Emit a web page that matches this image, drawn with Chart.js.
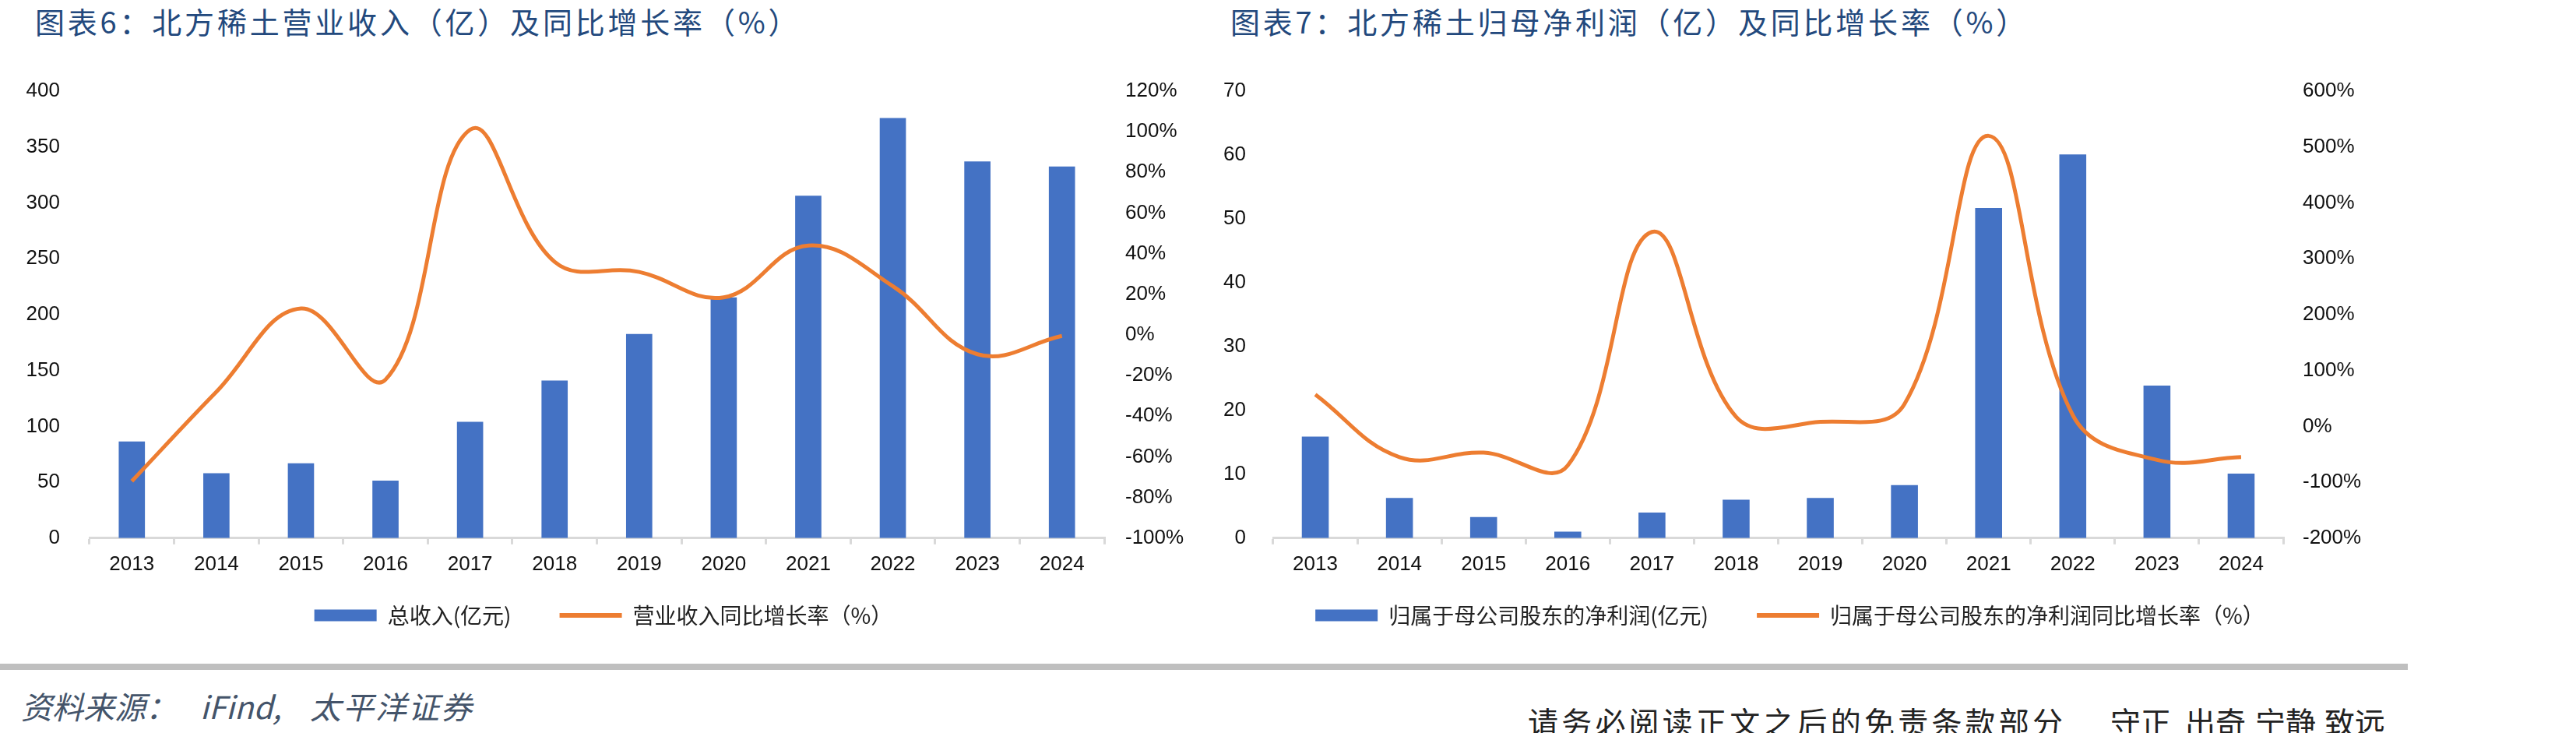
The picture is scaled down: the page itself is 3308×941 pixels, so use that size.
<!DOCTYPE html>
<html lang="zh-CN">
<head>
<meta charset="utf-8">
<title>北方稀土营业收入与归母净利润</title>
<script src="https://cdn.jsdelivr.net/npm/chart.js@4.4.1/dist/chart.umd.min.js"></script>
<style>
  html, body { margin: 0; padding: 0; background: #fff; }
  body { width: 3308px; height: 941px; position: relative; overflow: hidden; font-family: "Noto Sans CJK SC", sans-serif; }
  .title { position: absolute; top: 7px; font-size: 38px; line-height: 40px; color: #23497d; letter-spacing: 3.8px; white-space: nowrap; }
  canvas { position: absolute; top: 100px; }
  .rule { position: absolute; left: 0; top: 852px; width: 3092px; height: 8px; background: #bfbfbf; }
  .source { position: absolute; top: 885px; font-size: 40px; line-height: 42px; font-style: italic; color: #44546a; white-space: pre; }
  .motto { position: absolute; top: 904px; font-size: 39px; line-height: 42px; color: #222; white-space: pre; }
</style>
</head>
<body>
<div class="title" style="left:45px">图表6：北方稀土营业收入（亿）及同比增长率（%）</div>
<div class="title" style="left:1580px">图表7：北方稀土归母净利润（亿）及同比增长率（%）</div>

<canvas id="revenueChart" width="1550" height="750" style="left:0"></canvas>
<canvas id="profitChart" width="1477" height="750" style="left:1560px"></canvas>

<div class="rule"></div>
<span class="source" style="left:27px">资料来源：</span>
<span class="source" style="left:257px">iFind,</span>
<span class="source" style="left:398px; letter-spacing:2px">太平洋证券</span>
<span class="motto" style="left:1962px; letter-spacing:4.2px">请务必阅读正文之后的免责条款部分</span>
<span class="motto" style="left:2710px">守正</span>
<span class="motto" style="left:2806px">出奇</span>
<span class="motto" style="left:2896px">宁静</span>
<span class="motto" style="left:2985px">致远</span>

<script>
const years = ['2013', '2014', '2015', '2016', '2017', '2018', '2019', '2020', '2021', '2022', '2023', '2024'];

// 图表6
const revenue = [86.5, 58, 67, 51.5, 104, 141, 182.6, 215.5, 306.5, 376, 337, 332.5];
const revenueGrowth = [-72, -28, 13, -22, 101, 36, 31, 18.5, 44, 24, -9.5, -0.5];

// 图表7
const netProfit = [15.9, 6.3, 3.3, 1.0, 4.0, 6.0, 6.3, 8.3, 51.7, 60.1, 23.9, 10.1];
const netProfitGrowth = [57, -55, -47, -70, 348, 17, 8, 40, 520, 20, -60, -55];

const BLUE = '#4472C4';
const ORANGE = '#ED7D31';
const AXIS = '#D9D9D9';
const tickFont = { family: '"Liberation Sans", Arial, sans-serif', size: 26 };
const legendFont = { family: '"Noto Sans CJK SC", sans-serif', size: 28 };

function legendItems(chart) {
    return chart.data.datasets.map((ds, i) => {
        const isLine = ds.type === 'line';
        return {
            text: ds.label,
            fillStyle: isLine ? ds.borderColor : ds.backgroundColor,
            strokeStyle: isLine ? ds.borderColor : ds.backgroundColor,
            lineWidth: isLine ? 6 : 0,
            pointStyle: isLine ? 'line' : 'rect',
            fontColor: '#222',
            hidden: false,
            datasetIndex: i
        };
    });
}

// the legend sits closer to the axis than its item spacing would allow, so lift it
const legendLift = {
    id: 'legendLift',
    afterLayout(chart, args, opts) {
        const lg = chart.legend;
        const lab = lg.options.labels;
        const dy = lg.top + lab.padding + lab.font.size / 2 - opts.centerY;
        lg.top -= dy;
        lg.bottom -= dy;
    }
};

function makeChart(id, cfg) {
    const ctx = document.getElementById(id).getContext('2d');

    new Chart(ctx, {
        type: 'bar',
        data: {
            labels: years,
            datasets: [
                {
                    type: 'bar',
                    label: cfg.barLabel,
                    data: cfg.bars,
                    backgroundColor: BLUE,
                    yAxisID: 'y',
                    barPercentage: cfg.barPct,
                    categoryPercentage: 1,
                    order: 2
                },
                {
                    type: 'line',
                    label: cfg.lineLabel,
                    data: cfg.line,
                    borderColor: ORANGE,
                    backgroundColor: ORANGE,
                    borderWidth: 5,
                    pointRadius: 0,
                    tension: 0.4,
                    yAxisID: 'y1',
                    order: 1
                }
            ]
        },
        plugins: [legendLift],
        options: {
            responsive: false,
            animation: false,
            layout: { padding: { top: 17, left: 0, right: 0, bottom: 0 } },
            scales: {
                x: {
                    grid: { display: true, drawOnChartArea: false, drawTicks: true, tickLength: 8, color: AXIS, lineWidth: 3, offset: true },
                    border: { display: true, color: AXIS, width: 3 },
                    ticks: { font: tickFont, color: '#111', padding: 10, maxRotation: 0, autoSkip: false }
                },
                y: {
                    position: 'left',
                    min: cfg.leftMin, max: cfg.leftMax,
                    ticks: { stepSize: cfg.leftStep, font: tickFont, color: '#111', padding: 0 },
                    // hidden tick marks only serve as the gap between labels and plot
                    grid: { display: false, drawTicks: true, tickLength: cfg.leftGap },
                    border: { display: false },
                    afterFit: s => { s.width = cfg.leftWidth; }
                },
                y1: {
                    position: 'right',
                    min: cfg.rightMin, max: cfg.rightMax,
                    ticks: { stepSize: cfg.rightStep, font: tickFont, color: '#111', padding: 0, callback: v => v + '%' },
                    grid: { display: false, drawTicks: true, tickLength: cfg.rightGap },
                    border: { display: false },
                    afterFit: s => { s.width = cfg.rightWidth; }
                }
            },
            plugins: {
                tooltip: { enabled: false },
                legendLift: { centerY: 690 },
                legend: {
                    position: 'bottom',
                    labels: {
                        usePointStyle: true,
                        pointStyleWidth: 80,
                        boxHeight: 15,
                        padding: 62,
                        font: legendFont,
                        color: '#222',
                        generateLabels: legendItems
                    }
                }
            }
        }
    });
}

makeChart('revenueChart', {
    barLabel: '总收入(亿元)',
    lineLabel: '营业收入同比增长率（%）',
    bars: revenue,
    line: revenueGrowth,
    barPct: 0.31,
    leftMin: 0, leftMax: 400, leftStep: 50, leftGap: 38, leftWidth: 115,
    rightMin: -100, rightMax: 120, rightStep: 20, rightGap: 27, rightWidth: 132
});

makeChart('profitChart', {
    barLabel: '归属于母公司股东的净利润(亿元)',
    lineLabel: '归属于母公司股东的净利润同比增长率（%）',
    bars: netProfit,
    line: netProfitGrowth,
    barPct: 0.32,
    leftMin: 0, leftMax: 70, leftStep: 10, leftGap: 35, leftWidth: 75,
    rightMin: -200, rightMax: 600, rightStep: 100, rightGap: 25, rightWidth: 105
});
</script>
</body>
</html>
